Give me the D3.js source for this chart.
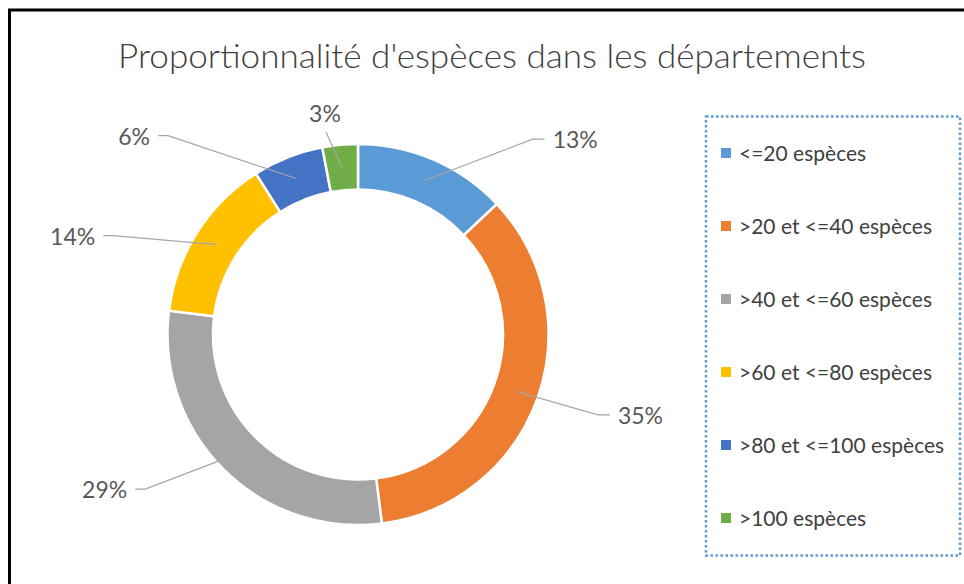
<!DOCTYPE html>
<meta charset="utf-8">
<style>
body { margin: 0; background: #fff; }
text { font-family: Lato, "Open Sans", sans-serif; }
.leader { fill: none; stroke: #a6a6a6; stroke-width: 1.2px; }
</style>
<body>
<script src="https://d3js.org/d3.v7.min.js"></script>
<script>

// data
var categories = ["<=20 espèces", ">20 et <=40 espèces", ">40 et <=60 espèces",
                  ">60 et <=80 espèces", ">80 et <=100 espèces", ">100 espèces"];
var shares = [13, 35, 29, 14, 6, 3];
var labels = ["13%", "35%", "29%", "14%", "6%", "3%"];
var colors = ["#5b9bd5", "#ed7d31", "#a5a5a5", "#ffc000", "#4472c4", "#70ad47"];
var title = "Proportionnalité d'espèces dans les départements";

// label elbow placement (angle in degrees from top, radius from centre)
var labelLayout = [
  {a: 41.8, r: 262, side: "right"},
  {a: 108.5, r: 253, side: "right"},
  {a: 234, r: 263, side: "left"},
  {a: 292, r: 264, side: "left"},
  {a: 316.3, r: 275, side: "left"},
  {a: 351, r: 205, side: "top"}
];

var W = 964, H = 584;
var cx = 358, cy = 334.5, outerR = 190.5, innerR = 145;

var svg = d3.select("body").append("svg")
    .attr("width", W)
    .attr("height", H);

// chart frame (only left and top edges visible)
svg.append("path")
    .attr("d", "M9.5,584 V10 H964")
    .attr("fill", "none")
    .attr("stroke", "#000")
    .attr("stroke-width", 3);

// title
svg.append("text")
    .attr("x", 492)
    .attr("y", 68)
    .attr("text-anchor", "middle")
    .attr("font-size", 34)
    .attr("font-weight", 300)
    .attr("fill", "#404040")
    .attr("textLength", 748)
    .attr("lengthAdjust", "spacingAndGlyphs")
    .text(title);

var pie = d3.pie().sort(null).value(function(d) { return d; });
var arcs = pie(shares);
var arc = d3.arc().innerRadius(innerR).outerRadius(outerR);

var g = svg.append("g").attr("transform", "translate(" + cx + "," + cy + ")");

g.selectAll("path.slice")
    .data(arcs)
  .enter().append("path")
    .attr("class", "slice")
    .attr("d", arc)
    .attr("fill", function(d, i) { return colors[i]; })
    .attr("stroke", "#fff")
    .attr("stroke-width", 2.5);

// data labels with leader lines
arcs.forEach(function(d, i) {
  var c = arc.centroid(d);
  var L = labelLayout[i];
  var rad = L.a * Math.PI / 180;
  var ex = L.r * Math.sin(rad), ey = -L.r * Math.cos(rad);
  var pts, tx, ty, anchor;
  if (L.side === "right") {
    pts = [c, [ex, ey], [ex + 12, ey]];
    tx = ex + 20; ty = ey + 9; anchor = "start";
  } else if (L.side === "left") {
    pts = [c, [ex, ey], [ex - 10, ey]];
    tx = ex - 18; ty = ey + 9; anchor = "end";
  } else {
    pts = [c, [ex, ey]];
    tx = ex - 1; ty = ey - 10; anchor = "middle";
  }
  g.append("path")
      .attr("class", "leader")
      .attr("d", d3.line()(pts));
  g.append("text")
      .attr("x", tx)
      .attr("y", ty)
      .attr("text-anchor", anchor)
      .attr("font-size", 23)
      .attr("fill", "#595959")
      .text(labels[i]);
});

// legend
var legend = svg.append("g");
legend.append("rect")
    .attr("x", 706)
    .attr("y", 116.5)
    .attr("width", 254)
    .attr("height", 439)
    .attr("fill", "none")
    .attr("stroke", "#5b9bd5")
    .attr("stroke-width", 2.5)
    .attr("stroke-dasharray", "2.5,2.5");

var ly = d3.scalePoint().domain(categories).range([153, 518]);

var item = legend.selectAll("g.item")
    .data(categories)
  .enter().append("g")
    .attr("class", "item")
    .attr("transform", function(d) { return "translate(0," + ly(d) + ")"; });

item.append("rect")
    .attr("x", 721)
    .attr("y", -5)
    .attr("width", 10)
    .attr("height", 10)
    .attr("fill", function(d, i) { return colors[i]; });

item.append("text")
    .attr("x", 739)
    .attr("y", 7.5)
    .attr("font-size", 21)
    .attr("fill", "#404040")
    .text(function(d) { return d; });

</script>
</body>
